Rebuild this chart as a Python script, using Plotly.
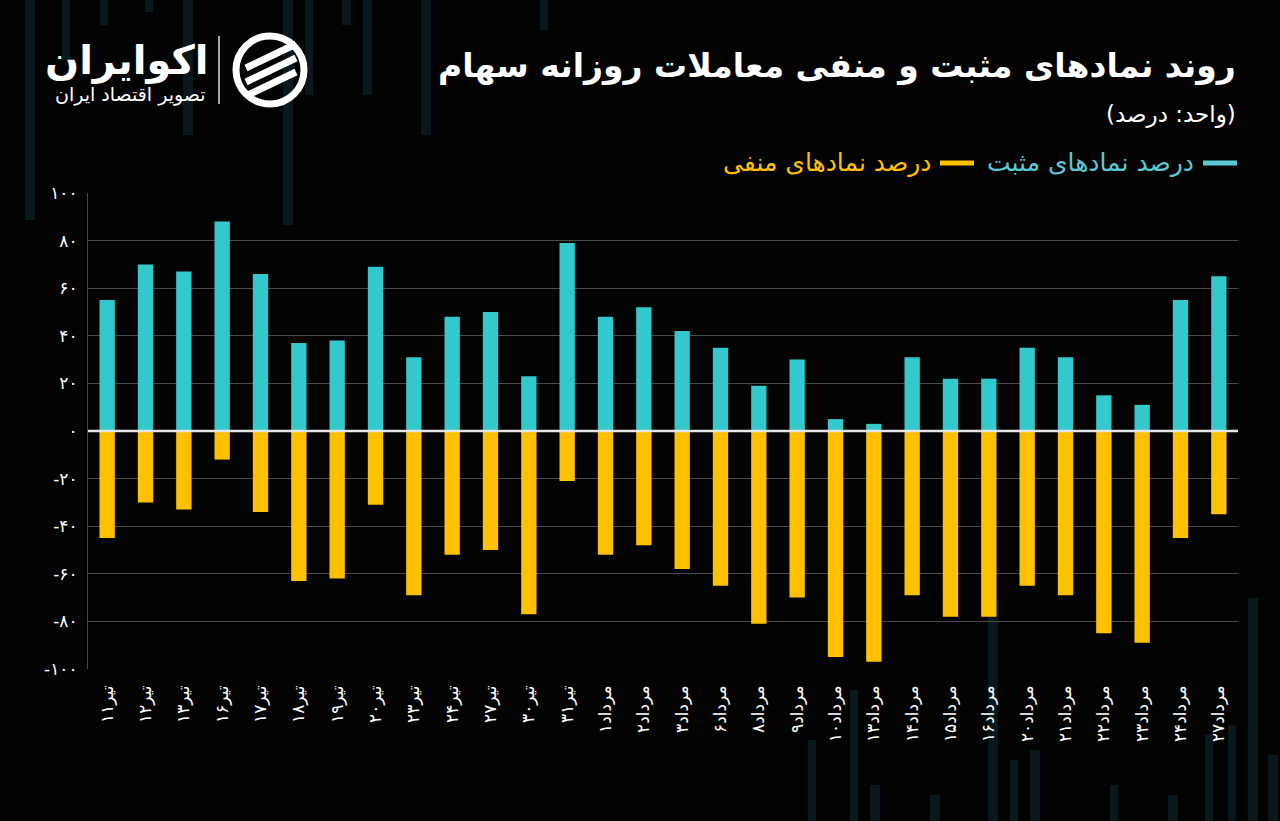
import plotly.graph_objects as go

categories = ["تیر۱۱", "تیر۱۲", "تیر۱۳", "تیر۱۶", "تیر۱۷", "تیر۱۸", "تیر۱۹", "تیر۲۰", "تیر۲۳", "تیر۲۴",
              "تیر۲۷", "تیر۳۰", "تیر۳۱", "مرداد۱", "مرداد۲", "مرداد۳", "مرداد۶", "مرداد۸", "مرداد۹", "مرداد۱۰",
              "مرداد۱۳", "مرداد۱۴", "مرداد۱۵", "مرداد۱۶", "مرداد۲۰", "مرداد۲۱", "مرداد۲۲", "مرداد۲۳", "مرداد۲۴", "مرداد۲۷"]

positive = [55, 70, 67, 88, 66, 37, 38, 69, 31, 48,
            50, 23, 79, 48, 52, 42, 35, 19, 30, 5,
            3, 31, 22, 22, 35, 31, 15, 11, 55, 65]

negative = [-45, -30, -33, -12, -34, -63, -62, -31, -69, -52,
            -50, -77, -21, -52, -48, -58, -65, -81, -70, -95,
            -97, -69, -78, -78, -65, -69, -85, -89, -45, -35]

y_tick_vals = [100, 80, 60, 40, 20, 0, -20, -40, -60, -80, -100]
y_tick_text = ["۱۰۰", "۸۰", "۶۰", "۴۰", "۲۰", "۰", "-۲۰", "-۴۰", "-۶۰", "-۸۰", "-۱۰۰"]

title = "روند نمادهای مثبت و منفی معاملات روزانه سهام"
subtitle = "(واحد: درصد)"
legend_pos = "درصد نمادهای مثبت"
legend_neg = "درصد نمادهای منفی"

CYAN = "#33C9CC"
YELLOW = "#FFC000"
FONT = "DejaVu Sans"

fig = go.Figure()
fig.add_trace(go.Bar(x=categories, y=positive, marker=dict(color=CYAN, line=dict(width=0)), name=legend_pos))
fig.add_trace(go.Bar(x=categories, y=negative, marker=dict(color=YELLOW, line=dict(width=0)), name=legend_neg))


def px_x(v):
    return (v - 88) / 1150


def px_y(v):
    return (669 - v) / 476


shapes = []
# faint decorative background stripes
deco = [(25, 35, 0, 220), (62, 70, 0, 60), (100, 108, 0, 25), (145, 153, 0, 12), (183, 193, 0, 135),
        (283, 293, 0, 225), (305, 313, 0, 95), (342, 351, 0, 25), (363, 372, 0, 95), (421, 431, 0, 135),
        (540, 548, 0, 30), (808, 816, 740, 821), (850, 858, 690, 821), (870, 880, 785, 821),
        (930, 940, 795, 821), (988, 998, 600, 821), (1010, 1018, 760, 821), (1030, 1040, 750, 821),
        (1110, 1118, 785, 821), (1168, 1178, 795, 821), (1205, 1213, 735, 821), (1228, 1236, 725, 821),
        (1248, 1258, 598, 821), (1268, 1278, 755, 821)]
for x0, x1, y0, y1 in deco:
    shapes.append(dict(type="rect", xref="paper", yref="paper", layer="below",
                       x0=px_x(x0), x1=px_x(x1), y0=px_y(y1), y1=px_y(y0),
                       fillcolor="#09181d", line=dict(width=0)))
# zero line
shapes.append(dict(type="line", xref="paper", yref="y", x0=0, x1=1, y0=0, y1=0,
                   line=dict(color="#e6e6e6", width=2.5), layer="above"))
# legend swatches
shapes.append(dict(type="line", xref="paper", yref="paper", x0=px_x(1203), x1=px_x(1237),
                   y0=px_y(163), y1=px_y(163), line=dict(color="#5cc8d6", width=5)))
shapes.append(dict(type="line", xref="paper", yref="paper", x0=px_x(940), x1=px_x(974),
                   y0=px_y(163), y1=px_y(163), line=dict(color=YELLOW, width=5)))
# logo divider
shapes.append(dict(type="line", xref="paper", yref="paper", x0=px_x(219), x1=px_x(219),
                   y0=px_y(36), y1=px_y(104), line=dict(color="#dddddd", width=1.5)))
# logo icon
shapes.append(dict(type="circle", xref="paper", yref="paper", x0=px_x(236), x1=px_x(304),
                   y0=px_y(104), y1=px_y(36), line=dict(color="white", width=7)))
for dy in (-14, 0, 14):
    shapes.append(dict(type="line", xref="paper", yref="paper", x0=px_x(246), x1=px_x(296),
                       y0=px_y(82 + dy), y1=px_y(58 + dy), line=dict(color="white", width=7)))

annotations = [
    dict(text="<b>" + title + "</b>", x=px_x(1238), y=px_y(66), xref="paper", yref="paper",
         xanchor="right", yanchor="middle", showarrow=False, font=dict(size=33, color="white", family=FONT)),
    dict(text=subtitle, x=px_x(1238), y=px_y(115), xref="paper", yref="paper",
         xanchor="right", yanchor="middle", showarrow=False, font=dict(size=23, color="white", family=FONT)),
    dict(text=legend_pos, x=px_x(1196), y=px_y(162), xref="paper", yref="paper",
         xanchor="right", yanchor="middle", showarrow=False, font=dict(size=25, color="#5cc8d6", family=FONT)),
    dict(text=legend_neg, x=px_x(933), y=px_y(162), xref="paper", yref="paper",
         xanchor="right", yanchor="middle", showarrow=False, font=dict(size=25, color=YELLOW, family=FONT)),
    dict(text="<b>اکوایران</b>", x=px_x(211), y=px_y(60), xref="paper", yref="paper",
         xanchor="right", yanchor="middle", showarrow=False, font=dict(size=40, color="white", family=FONT)),
    dict(text="تصویر اقتصاد ایران", x=px_x(208), y=px_y(94), xref="paper", yref="paper",
         xanchor="right", yanchor="middle", showarrow=False, font=dict(size=19, color="white", family=FONT)),
]

fig.update_layout(
    width=1280, height=821,
    margin=dict(l=88, r=42, t=193, b=152),
    paper_bgcolor="#030303", plot_bgcolor="rgba(0,0,0,0)",
    barmode="overlay", bargap=0.6, showlegend=False,
    shapes=shapes, annotations=annotations,
    font=dict(family=FONT, color="white"),
)
fig.update_xaxes(tickangle=-90, tickfont=dict(size=17, color="white", family=FONT),
                 showgrid=False, showline=False, ticks="", ticklabelstandoff=12)
fig.update_yaxes(range=[-100, 100], tickvals=y_tick_vals, ticktext=y_tick_text,
                 tickfont=dict(size=17, color="white", family=FONT),
                 showgrid=True, gridcolor="#4a4a4a", gridwidth=1, zeroline=False,
                 showline=True, linecolor="#4a4a4a", linewidth=1, ticks="", ticklabelstandoff=6)

fig.write_html("out.html", config={"displayModeBar": False},
               post_script="document.body.style.margin='0';document.body.style.background='#030303';"
                           "document.body.style.overflow='hidden';")
